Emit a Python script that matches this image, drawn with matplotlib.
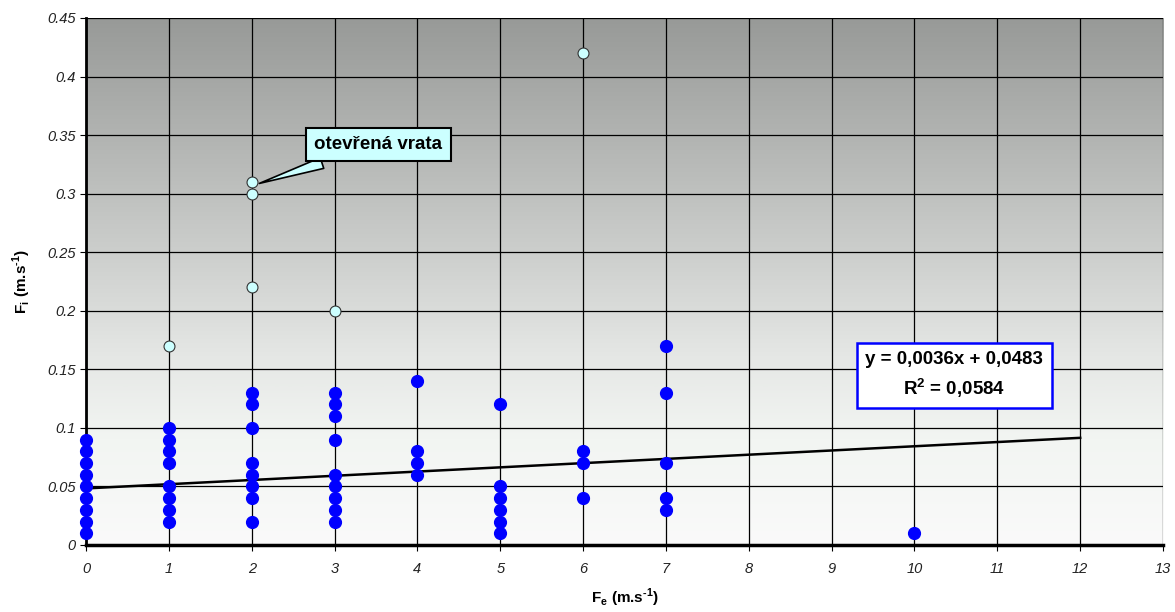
import numpy as np
import matplotlib
matplotlib.use("Agg")
import matplotlib.pyplot as plt
from matplotlib.colors import LinearSegmentedColormap

plt.rcParams['font.family'] = ['Liberation Sans', 'DejaVu Sans']

# Blue data points (Fe, Fi)
blue_x = [0]*9 + [1]*8 + [2]*8 + [3]*9 + [4]*4 + [5]*6 + [6]*3 + [7]*5 + [10]
blue_y = [0.01, 0.02, 0.03, 0.04, 0.05, 0.06, 0.07, 0.08, 0.09,
          0.02, 0.03, 0.04, 0.05, 0.07, 0.08, 0.09, 0.10,
          0.02, 0.04, 0.05, 0.06, 0.07, 0.10, 0.12, 0.13,
          0.02, 0.03, 0.04, 0.05, 0.06, 0.09, 0.11, 0.12, 0.13,
          0.06, 0.07, 0.08, 0.14,
          0.01, 0.02, 0.03, 0.04, 0.05, 0.12,
          0.04, 0.07, 0.08,
          0.03, 0.04, 0.07, 0.13, 0.17,
          0.01]
# Outliers (light cyan)
out_x = [1, 2, 2, 2, 3, 6]
out_y = [0.17, 0.22, 0.30, 0.31, 0.20, 0.42]

slope, intercept = 0.0036, 0.0483
trend_x = [0, 12]

xticks = list(range(0, 14))
yticks = [0, 0.05, 0.1, 0.15, 0.2, 0.25, 0.3, 0.35, 0.4, 0.45]
ytick_labels = ['0', '0.05', '0.1', '0.15', '0.2', '0.25', '0.3', '0.35', '0.4', '0.45']

fig = plt.figure(figsize=(11.75, 6.12), dpi=100)
ax = fig.add_axes([0.0732, 0.1095, 0.9166, 0.8611])
ax.set_xlim(0, 13)
ax.set_ylim(0, 0.45)

# gradient background
cmap = LinearSegmentedColormap.from_list('bg', [
    (0.0, '#fafafa'), (0.2, '#f2f5f2'), (0.35, '#e6e8e6'),
    (0.55, '#cdcfcd'), (0.8, '#afb1af'), (1.0, '#989a98')])
grad = np.linspace(0, 1, 256).reshape(-1, 1)
ax.imshow(grad, extent=[0, 13, 0, 0.45], origin='lower', aspect='auto',
          cmap=cmap, zorder=0)

ax.set_xticks(xticks)
ax.set_yticks(yticks)
ax.set_yticklabels(ytick_labels)
ax.grid(True, color='black', linewidth=0.9, zorder=1)
ax.set_axisbelow(False)
for s in ['top', 'right']:
    ax.spines[s].set_visible(False)
ax.spines['left'].set_linewidth(2)
ax.spines['bottom'].set_linewidth(2.5)
ax.tick_params(axis='both', labelsize=10.5, color='black', direction='out', length=4)
for lab in ax.get_xticklabels() + ax.get_yticklabels():
    lab.set_style('italic')
    lab.set_color('#222222')
ax.tick_params(axis='x', pad=8)

ax.plot(trend_x, [slope * v + intercept for v in trend_x], color='black',
        linewidth=1.8, zorder=3)

ax.scatter(blue_x, blue_y, s=72, color='#0000ff', edgecolors='#0000ff',
           zorder=4, clip_on=False)
ax.scatter(out_x, out_y, s=62, color='#ccffff', edgecolors='#333333',
           linewidths=0.8, zorder=4, clip_on=False)

ax.set_xlabel('F$_\\mathregular{e}$ (m.s$^\\mathregular{\u2010 1}$)', fontsize=11,
              fontweight='bold', labelpad=8)
ax.set_ylabel('F$_\\mathregular{i}$ (m.s$^\\mathregular{\u2010 1}$)', fontsize=11,
              fontweight='bold', labelpad=10)

ax.annotate('otevřená vrata', xy=(2.06, 0.308), xytext=(3.53, 0.342),
            fontsize=13.5, fontweight='bold', ha='center', va='center',
            bbox=dict(boxstyle='square,pad=0.45', fc='#ccffff', ec='black', lw=1.5),
            arrowprops=dict(arrowstyle='wedge,tail_width=0.6,shrink_factor=0.5',
                            fc='#ccffff', ec='black', lw=1.2,
                            relpos=(0.3, 0.0)),
            zorder=6)

ax.text(10.48, 0.145, 'y = 0,0036x + 0,0483\nR$^\\mathregular{2}$ = 0,0584',
        fontsize=13.5, fontweight='bold', ha='center', va='center',
        linespacing=1.45,
        bbox=dict(boxstyle='square,pad=0.45', fc='white', ec='#0000ff', lw=1.8),
        zorder=6)

fig.savefig('out.png', dpi=100)
